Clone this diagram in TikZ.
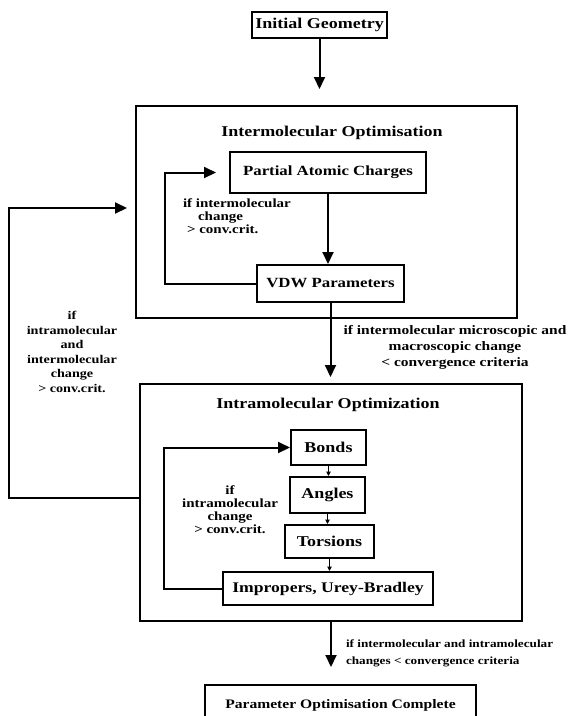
\documentclass[tikz,border=0pt]{standalone}
\usepackage{fontspec}
\setmainfont{Liberation Serif}[FakeStretch=1.2]
\usetikzlibrary{arrows.meta}
\newcommand{\bsize}[2]{\bfseries\fontsize{#1}{#2}\selectfont}

\begin{document}
\begin{tikzpicture}[x=1pt, y=-1pt, line width=2pt, >={Triangle[width=11pt,length=12pt]},
  box/.style={draw, rectangle, inner sep=0pt, font=\bsize{14}{16}},
  frame/.style={draw, rectangle, inner sep=0pt},
  note/.style={align=center, inner sep=0pt},
  tiny/.style={->, line width=1pt, >={Triangle[width=4.5pt,length=4.5pt]}}]
  \useasboundingbox (0,0) rectangle (571,716);

  \node [box, minimum width=135pt, minimum height=26pt, font=\bsize{15}{17}] (geom) at (319.5,25) {Initial Geometry};

  % intermolecular part
  \node [frame, minimum width=381pt, minimum height=212pt] (interbox) at (326.5,212) {};
  \node [font=\bsize{15}{17}] (intertitle) at (332,133) {Intermolecular Optimisation};
  \node [box, minimum width=196pt, minimum height=41pt] (pac) at (328,172.5) {Partial Atomic Charges};
  \node [box, minimum width=147pt, minimum height=37pt] (vdw) at (330.5,283.5) {VDW Parameters};
  \node [note, align=left, anchor=north west, font=\bsize{12.5}{13}] (interlab) at (182,198)
    {if intermolecular\\\hspace*{15pt}change\\\hspace*{4pt}> conv.crit.};

  % intramolecular part
  \node [frame, minimum width=382pt, minimum height=237pt] (intrabox) at (331,502.5) {};
  \node [font=\bsize{15}{17}] (intratitle) at (328,405) {Intramolecular Optimization};
  \node [box, minimum width=75pt, minimum height=35pt, font=\bsize{15}{17}] (bonds) at (328.5,447.5) {Bonds};
  \node [box, minimum width=75pt, minimum height=36pt, font=\bsize{15}{17}] (angles) at (327.5,495) {Angles};
  \node [box, minimum width=89pt, minimum height=33pt, font=\bsize{15}{17}] (torsions) at (329.5,541.5) {Torsions};
  \node [box, minimum width=210pt, minimum height=33pt, font=\bsize{14.7}{16}] (improp) at (328,588.5) {Impropers, Urey-Bradley};
  \node [note, font=\bsize{12.5}{13}] (intralab) at (230,510) {if\\intramolecular\\change\\> conv.crit.};

  \node [box, minimum width=271pt, minimum height=40pt, font=\bsize{13}{15}] (final) at (340.5,705) {Parameter Optimisation Complete};

  % conditions
  \node [note, font=\bsize{11.8}{14.5}] (outerlab) at (72,352) {if\\intramolecular\\and\\intermolecular\\change\\> conv.crit.};
  \node [note, font=\bsize{12.9}{16}] (passlab) at (455,347) {if intermolecular microscopic and\\macroscopic change\\< convergence criteria};
  \node [note, align=left, anchor=west, font=\bsize{11}{17}] (donelab) at (345,653) {if intermolecular and intramolecular\\changes < convergence criteria};

  % arrows
  \draw [->, shorten >=16pt] (geom) -- (geom |- interbox.north);
  \draw [->] (pac) -- (pac |- vdw.north);
  \draw [->, shorten >=6pt] (vdw) -- (vdw |- intrabox.north);
  \draw [->, shorten >=17pt] (intrabox) -- (intrabox |- final.north);
  \draw [->, shorten >=13pt] (vdw.west) -- ++(-91,0) |- (pac.west);
  \draw [->] (improp.west) -- ++(-58,0) |- (bonds.west);
  \draw [->, shorten >=8pt] ([yshift=5pt]intrabox.west) -- ++(-130,0) |- ([yshift=4pt]interbox.west);
  \draw [tiny] (bonds) -- (bonds |- angles.north);
  \draw [tiny] (angles) -- (angles |- torsions.north);
  \draw [tiny] (torsions) -- (torsions |- improp.north);
\end{tikzpicture}
\end{document}
